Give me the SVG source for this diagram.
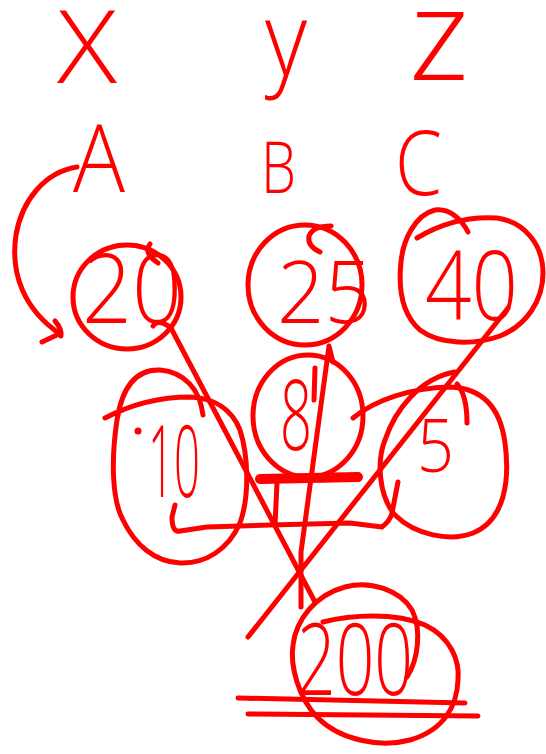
<svg xmlns="http://www.w3.org/2000/svg" width="546" height="754" viewBox="0 0 546 754">
<style>
.s{fill:none;stroke:#ff0000;stroke-width:5;stroke-linecap:round;stroke-linejoin:round}
.bar{stroke-width:10}
.t{fill:#ff0000;font-family:"Open Sans","Liberation Sans",sans-serif;font-weight:300}
</style>
<rect width="546" height="754" fill="#ffffff"/>
<g id="label-x"><text class="t" x="57" y="83" font-size="102" textLength="60" lengthAdjust="spacingAndGlyphs">X</text></g>
<g id="label-y"><text class="t" x="265" y="76" font-size="103" textLength="42" lengthAdjust="spacingAndGlyphs">y</text></g>
<g id="label-z"><text class="t" x="409" y="80" font-size="128" textLength="60" lengthAdjust="spacingAndGlyphs">z</text></g>
<g id="label-a"><text class="t" x="73" y="192" font-size="94" textLength="52" lengthAdjust="spacingAndGlyphs">A</text></g>
<g id="label-b"><text class="t" x="261" y="193" font-size="71" textLength="35" lengthAdjust="spacingAndGlyphs">B</text></g>
<g id="label-c"><text class="t" x="395" y="195" font-size="91" textLength="47" lengthAdjust="spacingAndGlyphs">C</text></g>

<g id="node-20">
<ellipse class="s" cx="127" cy="297" rx="54" ry="52"/>
<path class="s" d="M 150 244 Q 143 253 158 263"/>
<text class="t" x="82" y="323" font-size="95" textLength="100" lengthAdjust="spacingAndGlyphs">20</text>
</g>
<g id="node-25">
<ellipse class="s" cx="305" cy="285" rx="57" ry="60"/>
<path class="s" d="M 320 252 Q 307 246 309 236 Q 313 226 331 226"/>
<text class="t" x="277" y="323" font-size="86" textLength="95" lengthAdjust="spacingAndGlyphs">25</text>
</g>
<g id="node-40">
<path class="s" d="M 417 238 C 440 224 465 216 497 218 C 525 222 543 245 543 273 C 543 300 527 325 500 336 C 475 345 440 345 420 330 C 403 315 398 290 401 262 C 403 240 415 215 435 210 C 450 208 462 220 468 232"/>
<text class="t" x="425" y="320" font-size="95" textLength="93" lengthAdjust="spacingAndGlyphs">40</text>
</g>
<g id="node-10">
<path class="s" d="M 203 415 C 200 390 185 372 160 370 C 135 369 122 388 117 420 C 111 460 112 500 123 520 C 135 545 155 562 180 563 C 205 564 228 550 240 523 C 250 495 248 455 240 430 C 232 410 215 398 190 397 C 160 397 130 405 105 418"/>
<circle cx="138" cy="431" r="3.5" fill="#ff0000"/>
<text class="t" x="148" y="497" font-size="100" textLength="52" lengthAdjust="spacingAndGlyphs">10</text>
</g>
<g id="node-8">
<ellipse class="s" cx="308" cy="416" rx="55" ry="61"/>
<path class="s" d="M 315 368 L 314 400"/>
<text class="t" x="280" y="450" font-size="98" textLength="32" lengthAdjust="spacingAndGlyphs">8</text>
</g>
<g id="node-5">
<path class="s" d="M 353 418 C 375 400 410 388 450 387 C 480 388 500 405 505 443 C 510 480 505 520 473 533 C 450 542 415 535 395 515 C 378 495 377 460 385 440 C 395 410 420 378 455 372"/>
<path class="s" d="M 457 384 Q 467 395 467 423"/>
<text class="t" x="417" y="472" font-size="73" textLength="37" lengthAdjust="spacingAndGlyphs">5</text>
</g>
<g id="node-200">
<path class="s" d="M 323 622 C 350 615 395 612 425 625 C 450 637 460 660 458 680 C 457 705 445 730 410 740 C 380 748 340 740 318 718 C 298 698 290 665 293 645 C 296 620 315 595 345 587 C 370 580 400 590 412 610 C 422 630 418 660 407 677"/>
<text class="t" x="297" y="695" font-size="100" textLength="116" lengthAdjust="spacingAndGlyphs">200</text>
</g>

<g id="connectors">
<path class="s" d="M 77 167 C 45 172 22 200 16 235 C 10 275 25 310 60 334"/>
<path class="s" d="M 55 321 Q 62 329 61 336 M 42 342 L 61 333"/>
<path class="s" d="M 153 326 Q 158 318 171 328 L 315 602"/>
<path class="s" d="M 508 308 L 248 637"/>
<path class="s" d="M 333 362 L 329 346 L 301 552 L 301 607"/>
<path class="s" d="M 175 505 L 172 517 Q 172 533 180 531 L 207 527 L 270 525 L 350 523 L 382 527 Q 390 521 392 513 L 398 482"/>
<path class="s bar" d="M 260 479 L 358 477"/>
<path class="s" d="M 277 483 L 275 525"/>
<path class="s" d="M 238 698 L 465 703"/>
<path class="s" d="M 248 714 L 478 716"/>
</g>
</svg>
